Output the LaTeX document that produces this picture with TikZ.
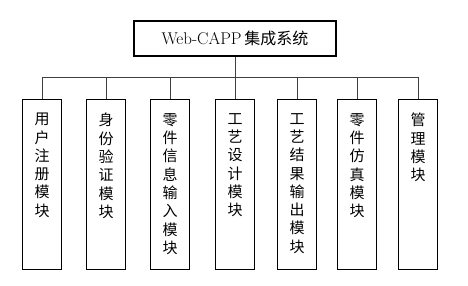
\documentclass[tikz,border=0pt]{standalone}
\usepackage{fontspec}
\newfontfamily\cjk{Noto Sans CJK SC}
\begin{document}
\begin{tikzpicture}[x=1pt,y=-1pt,
  topbox/.style={draw,line width=1.3pt,minimum width=202pt,minimum height=35pt,inner sep=0pt},
  mod/.style={draw,line width=1.4pt,minimum width=39pt,minimum height=170pt,inner sep=0pt,anchor=north},
  modtext/.style={font=\cjk\fontsize{15}{18.3}\selectfont,align=center,anchor=north,inner sep=0pt},
  conn/.style={line width=0.8pt,draw=black!75}]
\useasboundingbox (0,0) rectangle (468,285);
\node[topbox] (top) at (235,38.5) {\fontsize{17}{19}\selectfont Web-CAPP\,{\cjk\fontsize{16}{19}\selectfont 集成系统}};
\node[mod] (b1) at (42,99) {};
\node[mod] (b2) at (106,99) {};
\node[mod] (b3) at (170,99) {};
\node[mod] (b4) at (235,99) {};
\node[mod] (b5) at (297,99) {};
\node[mod] (b6) at (357,99) {};
\node[mod] (b7) at (418,99) {};
\node[modtext] (t1) at ([yshift=-14pt]b1.north) {用\\户\\注\\册\\模\\块};
\node[modtext] (t2) at ([yshift=-14pt]b2.north) {身\\份\\验\\证\\模\\块};
\node[modtext] (t3) at ([yshift=-14pt]b3.north) {零\\件\\信\\息\\输\\入\\模\\块};
\node[modtext] (t4) at ([yshift=-14pt]b4.north) {工\\艺\\设\\计\\模\\块};
\node[modtext] (t5) at ([yshift=-14pt]b5.north) {工\\艺\\结\\果\\输\\出\\模\\块};
\node[modtext] (t6) at ([yshift=-14pt]b6.north) {零\\件\\仿\\真\\模\\块};
\node[modtext] (t7) at ([yshift=-14pt]b7.north) {管\\理\\模\\块};
\coordinate (bus) at (0,77);
\draw[conn] (top.south) -- (b4.north);
\draw[conn] (b1.north) |- (b7.north |- bus) -- (b7.north);
\foreach \b in {b2,b3,b5,b6} \draw[conn] (\b.north) -- (\b.north |- bus);
\end{tikzpicture}
\end{document}
